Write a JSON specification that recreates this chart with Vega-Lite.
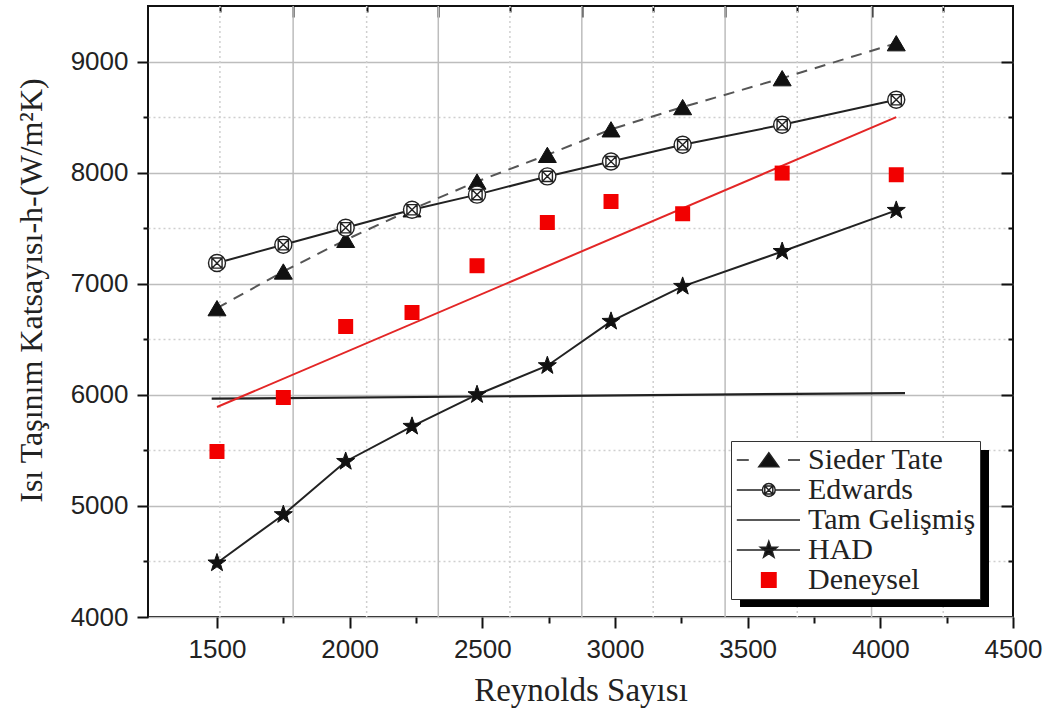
{
  "$schema": "https://vega.github.io/schema/vega-lite/v6.json",
  "width": 865,
  "height": 611,
  "autosize": {"type": "none"},
  "padding": {"left": 148, "top": 6, "right": 39, "bottom": 94},
  "background": "white",
  "config": {
    "view": {"stroke": "#111", "strokeWidth": 2},
    "axis": {
      "domain": false,
      "grid": false,
      "labelFont": "Liberation Sans",
      "labelFontSize": 26,
      "labelColor": "#222",
      "tickColor": "#111",
      "tickWidth": 2,
      "titleFont": "Liberation Serif",
      "titleFontSize": 32,
      "titleFontWeight": "normal",
      "titleColor": "#222"
    }
  },
  "datasets": {
    "pts": [
      {"s": "Sieder Tate", "re": 1500, "h": 6780},
      {"s": "Sieder Tate", "re": 1750, "h": 7110},
      {"s": "Sieder Tate", "re": 1985, "h": 7395},
      {"s": "Sieder Tate", "re": 2235, "h": 7670},
      {"s": "Sieder Tate", "re": 2480, "h": 7920},
      {"s": "Sieder Tate", "re": 2745, "h": 8160},
      {"s": "Sieder Tate", "re": 2985, "h": 8390},
      {"s": "Sieder Tate", "re": 3255, "h": 8590},
      {"s": "Sieder Tate", "re": 3630, "h": 8850},
      {"s": "Sieder Tate", "re": 4060, "h": 9165},
      {"s": "Edwards", "re": 1500, "h": 7186},
      {"s": "Edwards", "re": 1750, "h": 7351},
      {"s": "Edwards", "re": 1985, "h": 7504},
      {"s": "Edwards", "re": 2235, "h": 7666},
      {"s": "Edwards", "re": 2480, "h": 7802},
      {"s": "Edwards", "re": 2745, "h": 7966},
      {"s": "Edwards", "re": 2985, "h": 8100},
      {"s": "Edwards", "re": 3255, "h": 8251},
      {"s": "Edwards", "re": 3630, "h": 8431},
      {"s": "Edwards", "re": 4060, "h": 8656},
      {"s": "HAD", "re": 1500, "h": 4486},
      {"s": "HAD", "re": 1750, "h": 4921},
      {"s": "HAD", "re": 1985, "h": 5400},
      {"s": "HAD", "re": 2235, "h": 5716},
      {"s": "HAD", "re": 2480, "h": 6001},
      {"s": "HAD", "re": 2745, "h": 6262},
      {"s": "HAD", "re": 2985, "h": 6661},
      {"s": "HAD", "re": 3255, "h": 6976},
      {"s": "HAD", "re": 3630, "h": 7290},
      {"s": "HAD", "re": 4060, "h": 7660},
      {"s": "Deneysel", "re": 1500, "h": 5490},
      {"s": "Deneysel", "re": 1750, "h": 5976},
      {"s": "Deneysel", "re": 1985, "h": 6615},
      {"s": "Deneysel", "re": 2235, "h": 6741},
      {"s": "Deneysel", "re": 2480, "h": 7162},
      {"s": "Deneysel", "re": 2745, "h": 7551},
      {"s": "Deneysel", "re": 2985, "h": 7740},
      {"s": "Deneysel", "re": 3255, "h": 7630},
      {"s": "Deneysel", "re": 3630, "h": 7996},
      {"s": "Deneysel", "re": 4060, "h": 7981},
      {"s": "Tam Gelişmiş", "re": 1480, "h": 5965},
      {"s": "Tam Gelişmiş", "re": 4093, "h": 6016},
      {"s": "Fit", "re": 1500, "h": 5890},
      {"s": "Fit", "re": 4060, "h": 8500}
    ],
    "gridMajor": [{"gx": 1787}, {"gx": 2334}, {"gx": 2875}, {"gx": 3415}, {"gx": 3967}],
    "gridMinor": [{"gx": 1511}, {"gx": 2064}, {"gx": 2604}, {"gx": 3144}, {"gx": 3687}, {"gx": 4237}]
  },
  "resolve": {"axis": {"x": "independent", "y": "independent"}},
  "layer": [
    {
      "data": {"name": "gridMajor"},
      "mark": {"type": "rule", "color": "#bdbdbd", "strokeWidth": 1.5},
      "encoding": {
        "x": {"field": "gx", "type": "quantitative",
          "scale": {"domain": [1240, 4500], "nice": false, "zero": false},
          "axis": {"orient": "bottom", "values": [1500, 2000, 2500, 3000, 3500, 4000, 4500], "format": "d", "tickSize": 11, "labelPadding": 8, "labelFlush": false, "labelOverlap": false, "title": "Reynolds Sayısı", "titleFontSize": 33, "titlePadding": 12}}
      }
    },
    {
      "data": {"name": "gridMinor"},
      "mark": {"type": "rule", "color": "#cfcfcf", "strokeWidth": 1.5, "strokeDash": [2, 3]},
      "encoding": {
        "x": {"field": "gx", "type": "quantitative",
          "scale": {"domain": [1240, 4500], "nice": false, "zero": false},
          "axis": {"orient": "bottom", "values": [1750, 2250, 2750, 3250, 3750, 4250], "tickSize": 6, "labels": false, "title": null}}
      }
    },
    {
      "data": {"name": "pts"},
      "transform": [{"filter": "datum.s === 'Tam Gelişmiş'"}],
      "mark": {"type": "line", "color": "#222", "strokeWidth": 2.2},
      "encoding": {
        "x": {"field": "re", "type": "quantitative",
          "scale": {"domain": [1240, 4500], "nice": false, "zero": false},
          "axis": {"orient": "top", "values": [1787, 2334, 2875, 3415, 3967], "tickSize": -11, "labels": false, "title": null}},
        "y": {"field": "h", "type": "quantitative",
          "scale": {"domain": [4000, 9500], "nice": false, "zero": false},
          "axis": {"orient": "left", "values": [4000, 5000, 6000, 7000, 8000, 9000], "format": "d", "tickSize": 11, "labelPadding": 9, "grid": true, "gridColor": "#bdbdbd", "gridWidth": 1.5, "title": "Isı Taşınım Katsayısı-h-(W/m²K)", "titlePadding": 22, "titleY": 284}}
      }
    },
    {
      "data": {"name": "pts"},
      "transform": [{"filter": "datum.s === 'Sieder Tate'"}],
      "mark": {"type": "line", "color": "#555", "strokeWidth": 2, "strokeDash": [11, 8]},
      "encoding": {
        "x": {"field": "re", "type": "quantitative",
          "scale": {"domain": [1240, 4500], "nice": false, "zero": false},
          "axis": {"orient": "top", "values": [1511, 2064, 2604, 3144, 3687, 4237], "tickSize": -6, "labels": false, "title": null}},
        "y": {"field": "h", "type": "quantitative",
          "scale": {"domain": [4000, 9500], "nice": false, "zero": false},
          "axis": {"orient": "left", "values": [4500, 5500, 6500, 7500, 8500], "tickSize": 5, "labels": false, "grid": true, "gridColor": "#cfcfcf", "gridDash": [2, 3], "gridWidth": 1.5, "title": null}}
      }
    },
    {
      "data": {"name": "pts"},
      "transform": [{"filter": "datum.s === 'Edwards'"}],
      "mark": {"type": "line", "color": "#222", "strokeWidth": 2},
      "encoding": {
        "x": {"field": "re", "type": "quantitative",
          "scale": {"domain": [1240, 4500], "nice": false, "zero": false}, "axis": null},
        "y": {"field": "h", "type": "quantitative",
          "scale": {"domain": [4000, 9500], "nice": false, "zero": false},
          "axis": {"orient": "right", "values": [5000, 6000, 7000, 8000, 9000], "tickSize": -12, "labels": false, "title": null}}
      }
    },
    {
      "data": {"name": "pts"},
      "transform": [{"filter": "datum.s === 'HAD'"}],
      "mark": {"type": "line", "color": "#222", "strokeWidth": 2},
      "encoding": {
        "x": {"field": "re", "type": "quantitative",
          "scale": {"domain": [1240, 4500], "nice": false, "zero": false}, "axis": null},
        "y": {"field": "h", "type": "quantitative",
          "scale": {"domain": [4000, 9500], "nice": false, "zero": false},
          "axis": {"orient": "right", "values": [4500, 5500, 6500, 7500, 8500], "tickSize": -5, "labels": false, "title": null}}
      }
    },
    {
      "data": {"name": "pts"},
      "transform": [{"filter": "datum.s === 'Fit'"}],
      "mark": {"type": "line", "color": "#e32626", "strokeWidth": 2},
      "encoding": {
        "x": {"field": "re", "type": "quantitative", "scale": {"domain": [1240, 4500], "nice": false, "zero": false}, "axis": null},
        "y": {"field": "h", "type": "quantitative", "scale": {"domain": [4000, 9500], "nice": false, "zero": false}, "axis": null}
      }
    },
    {
      "data": {"name": "pts"},
      "transform": [{"filter": "datum.s === 'Sieder Tate'"}],
      "mark": {"type": "point", "shape": "M0,-0.85L1,0.85H-1Z", "size": 324, "filled": true, "fill": "#111", "stroke": "#111", "strokeWidth": 1, "opacity": 1},
      "encoding": {
        "x": {"field": "re", "type": "quantitative", "scale": {"domain": [1240, 4500], "nice": false, "zero": false}, "axis": null},
        "y": {"field": "h", "type": "quantitative", "scale": {"domain": [4000, 9500], "nice": false, "zero": false}, "axis": null}
      }
    },
    {
      "data": {"name": "pts"},
      "transform": [{"filter": "datum.s === 'Edwards'"}],
      "mark": {"type": "point", "shape": "M-1,0A1,1,0,1,1,1,0A1,1,0,1,1,-1,0ZM-0.6,-0.6H0.6V0.6H-0.6ZM-0.6,-0.6L0.6,0.6M-0.6,0.6L0.6,-0.6", "size": 289, "filled": true, "fill": "white", "stroke": "#222", "strokeWidth": 1.4, "opacity": 1},
      "encoding": {
        "x": {"field": "re", "type": "quantitative", "scale": {"domain": [1240, 4500], "nice": false, "zero": false}, "axis": null},
        "y": {"field": "h", "type": "quantitative", "scale": {"domain": [4000, 9500], "nice": false, "zero": false}, "axis": null}
      }
    },
    {
      "data": {"name": "pts"},
      "transform": [{"filter": "datum.s === 'HAD'"}],
      "mark": {"type": "point", "shape": "M0,-1L0.235,-0.324L0.951,-0.309L0.38,0.124L0.588,0.809L0,0.4L-0.588,0.809L-0.38,0.124L-0.951,-0.309L-0.235,-0.324Z", "size": 361, "filled": true, "fill": "#111", "stroke": "#111", "strokeWidth": 1, "opacity": 1},
      "encoding": {
        "x": {"field": "re", "type": "quantitative", "scale": {"domain": [1240, 4500], "nice": false, "zero": false}, "axis": null},
        "y": {"field": "h", "type": "quantitative", "scale": {"domain": [4000, 9500], "nice": false, "zero": false}, "axis": null}
      }
    },
    {
      "data": {"name": "pts"},
      "transform": [{"filter": "datum.s === 'Deneysel'"}],
      "mark": {"type": "point", "shape": "square", "size": 225, "filled": true, "fill": "#f20000", "strokeWidth": 0, "opacity": 1},
      "encoding": {
        "x": {"field": "re", "type": "quantitative", "scale": {"domain": [1240, 4500], "nice": false, "zero": false}, "axis": null},
        "y": {"field": "h", "type": "quantitative", "scale": {"domain": [4000, 9500], "nice": false, "zero": false}, "axis": null}
      }
    },
    {
      "data": {"name": "pts"},
      "transform": [{"filter": "false"}],
      "mark": {"type": "point", "filled": true, "color": "#000", "fill": "#000", "strokeWidth": 0, "opacity": 1},
      "encoding": {
        "x": {"field": "re", "type": "quantitative", "scale": {"domain": [1240, 4500], "nice": false, "zero": false}, "axis": null},
        "y": {"field": "h", "type": "quantitative", "scale": {"domain": [4000, 9500], "nice": false, "zero": false}, "axis": null},
        "opacity": {"field": "s", "type": "nominal",
          "scale": {"domain": ["gölge"], "range": [1]},
          "legend": {"orient": "none", "legendX": 583, "legendY": 435, "title": null, "zindex": 1, "padding": 0, "labelFontSize": 1, "labelExpr": "''", "labelOffset": 0, "symbolSize": 256, "symbolStrokeWidth": 0, "symbolType": "M0.125,0.125H31.25V19.75H0.125Z", "symbolFillColor": "#000", "symbolOpacity": 1}}
      }
    },
    {
      "data": {"name": "pts"},
      "transform": [{"filter": "false"}],
      "mark": {"type": "point", "filled": true, "strokeWidth": 1.5, "opacity": 1},
      "encoding": {
        "x": {"field": "re", "type": "quantitative", "scale": {"domain": [1240, 4500], "nice": false, "zero": false}, "axis": null},
        "y": {"field": "h", "type": "quantitative", "scale": {"domain": [4000, 9500], "nice": false, "zero": false}, "axis": null},
        "shape": {"field": "s", "type": "nominal",
          "scale": {"domain": ["Sieder Tate", "Edwards", "Tam Gelişmiş", "HAD", "Deneysel"],
            "range": [
              "M-1.65,0H-0.15M4.75,0H6.25M2.35,-0.9L3.6,0.85H1.1Z",
              "M-1.65,0H1.55M3.15,0H6.25M1.55,0A0.8,0.8,0,1,1,3.15,0A0.8,0.8,0,1,1,1.55,0ZM1.85,-0.5H2.85V0.5H1.85ZM1.85,-0.5L2.85,0.5M1.85,0.5L2.85,-0.5",
              "M-1.65,0H6.25",
              "M-1.65,0H6.25M2.35,-1.1L2.609,-0.356L3.396,-0.34L2.768,0.136L2.997,0.89L2.35,0.44L1.703,0.89L1.932,0.136L1.304,-0.34L2.091,-0.356Z",
              "M1.45,-0.9H3.25V0.9H1.45Z"
            ]},
          "legend": {"orient": "none", "legendX": 583, "legendY": 435, "title": null, "zindex": 2, "fillColor": "white", "strokeColor": "#333", "padding": 4, "labelFont": "Liberation Serif", "labelFontSize": 30, "labelColor": "#222", "labelOffset": 43, "labelLimit": 0, "symbolSize": 256, "symbolStrokeWidth": 1.5, "rowPadding": 0}},
        "fill": {"field": "s", "type": "nominal",
          "scale": {"domain": ["Sieder Tate", "Edwards", "Tam Gelişmiş", "HAD", "Deneysel"], "range": ["#111", "white", "transparent", "#111", "#f20000"]},
          "legend": {"orient": "none", "legendX": 583, "legendY": 435, "title": null, "zindex": 2, "fillColor": "white", "strokeColor": "#333", "padding": 4, "labelFont": "Liberation Serif", "labelFontSize": 30, "labelColor": "#222", "labelOffset": 43, "labelLimit": 0, "symbolSize": 256, "symbolStrokeWidth": 1.5, "rowPadding": 0}},
        "stroke": {"field": "s", "type": "nominal",
          "scale": {"domain": ["Sieder Tate", "Edwards", "Tam Gelişmiş", "HAD", "Deneysel"], "range": ["#222", "#222", "#222", "#222", "#f20000"]},
          "legend": {"orient": "none", "legendX": 583, "legendY": 435, "title": null, "zindex": 2, "fillColor": "white", "strokeColor": "#333", "padding": 4, "labelFont": "Liberation Serif", "labelFontSize": 30, "labelColor": "#222", "labelOffset": 43, "labelLimit": 0, "symbolSize": 256, "symbolStrokeWidth": 1.5, "rowPadding": 0}}
      }
    }
  ]
}
